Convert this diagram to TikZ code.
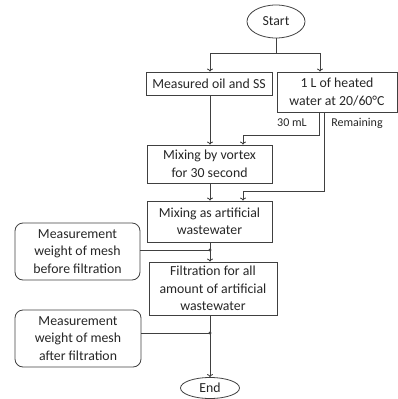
\documentclass[tikz,border=0pt]{standalone}
\usepackage{fontspec}
\setmainfont{Carlito}
\usetikzlibrary{shapes.geometric,arrows.meta}

\begin{document}
\begin{tikzpicture}[x=1pt,y=-1pt,
  >={To[length=3pt,width=6pt]},
  every node/.style={font=\fontsize{13.8}{17.5}\selectfont, text=black!85, align=center, inner sep=0pt},
  box/.style={draw=black!75, line width=0.8pt, rectangle},
  rbox/.style={box, rounded corners=8pt},
  oval/.style={draw=black!75, line width=0.8pt, ellipse},
  flow/.style={draw=black!75, line width=0.8pt},
  tag/.style={font=\fontsize{12}{13}\selectfont}]
\useasboundingbox (0,0) rectangle (398,399);
\node[oval, minimum width=58, minimum height=33] (start) at (276,21.5) {Start};
\node[box, minimum width=126, minimum height=23] (oil) at (209,83.5) {Measured oil and SS};
\node[box, minimum width=120, minimum height=40] (water) at (337,92) {1 L of heated\\water at 20/60°C};
\node[box, minimum width=125, minimum height=38] (vortex) at (209.5,164) {Mixing by vortex\\for 30 second};
\node[box, minimum width=125, minimum height=41] (mixart) at (209.5,221.5) {Mixing as artificial\\wastewater};
\node[box, minimum width=128, minimum height=53] (filt) at (213,288.5) {Filtration for all\\amount of artificial\\wastewater};
\node[rbox, minimum width=125, minimum height=57] (before) at (77.5,251.5) {Measurement\\weight of mesh\\before filtration};
\node[rbox, minimum width=126, minimum height=57] (after) at (78,338.5) {Measurement\\weight of mesh\\after filtration};
\node[oval, minimum width=59, minimum height=21] (end) at (210,388) {End};
\node[tag] (ml) at (292,123) {30 mL};
\node[tag] (rem) at (357,123) {Remaining};
\coordinate (split) at (276,53);
\coordinate (wa) at (320,53);
\coordinate (c1) at (319,135);
\coordinate (d1) at (243,135);
\coordinate (c2) at (324,191);
\coordinate (d2) at (243,191);
\coordinate (j1) at (210,250);
\coordinate (j2) at (210,333);
\draw[flow] (start) -- (split);
\draw[flow,->] (split) -| (oil.north -| j1);
\draw[flow,->] (split) -- (wa) -- (wa |- water.north);
\draw[flow,->] (water.south -| c1) |- (d1) -- (d1 |- vortex.north);
\draw[flow,->] (water.south -| c2) |- (d2) -- (d2 |- mixart.north);
\draw[flow,->] (oil.south -| j1) -- (j1 |- vortex.north);
\draw[flow,->] (vortex.south -| j1) -- (j1 |- mixart.north);
\draw[flow,->] (mixart.south -| j1) -- (j1 |- filt.north);
\draw[flow] (before.east |- j1) -- (j1);
\fill[black!75] (j1) circle (1.6);
\draw[flow,->] (filt.south -| j2) -- (end);
\draw[flow] (after.east |- j2) -- (j2);
\fill[black!75] (j2) circle (1.6);
\end{tikzpicture}
\end{document}
